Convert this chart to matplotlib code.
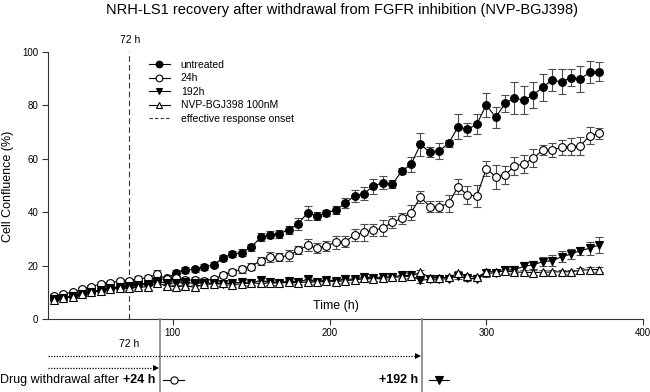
import matplotlib
matplotlib.use('Agg')
import matplotlib.pyplot as plt
from matplotlib.transforms import blended_transform_factory
from matplotlib.lines import Line2D

plt.rcParams['font.family'] = ['Liberation Sans', 'DejaVu Sans']

# ---------------- data ----------------
time_h = [24, 30, 36, 42, 48, 54, 60, 66, 72, 78, 84, 90, 96, 102, 108, 114,
          120, 126, 132, 138, 144, 150, 156, 162, 168, 174, 180, 186, 192, 198,
          204, 210, 216, 222, 228, 234, 240, 246, 252, 258, 264, 270, 276, 282,
          288, 294, 300, 306, 312, 318, 324, 330, 336, 342, 348, 354, 360, 366, 372]

untreated = [7.5, 8.0, 8.6, 9.4, 10.1, 10.9, 11.6, 12.1, 12.6, 13.0, 13.5, 14.6, 15.2,
             17.2, 18.4, 18.6, 19.5, 20.3, 22.9, 24.3, 24.9, 26.9, 30.6, 31.6, 32.0,
             33.4, 35.7, 39.8, 38.6, 39.8, 40.8, 43.3, 46.2, 47.0, 49.8, 51.1, 50.4,
             55.4, 57.9, 65.4, 62.4, 63.0, 65.8, 72.0, 71.0, 73.0, 80.2, 75.5, 80.8,
             82.7, 82.0, 83.9, 86.8, 89.5, 88.8, 90.4, 89.9, 92.4, 92.6]
untreated_sd = [0.6, 0.6, 0.6, 0.7, 0.7, 0.7, 0.8, 0.8, 0.8, 0.8, 0.9, 0.9, 1.0,
                1.0, 1.0, 1.0, 1.0, 1.0, 1.2, 1.2, 1.2, 1.3,
                1.5, 1.2, 1.5, 1.5, 2.2, 2.6, 1.5, 1.2, 1.5, 1.9, 2.2,
                2.5, 2.8, 2.4, 1.5, 1.2, 2.8, 4.4, 1.9, 2.9, 1.4, 4.7, 2.5, 3.7, 4.5,
                3.9, 3.1, 5.9, 5.2, 5.0, 5.1, 4.2, 4.7, 3.1, 4.9, 4.1, 3.5]

w24h = [8.6, 9.4, 10.0, 11.1, 12.1, 13.2, 13.6, 14.2, 14.3, 15.1, 15.4, 16.9, 14.8,
        15.2, 14.6, 14.6, 14.4, 14.9, 16.5, 17.6, 18.6, 19.6, 21.9, 23.2, 23.2,
        23.8, 25.7, 27.6, 26.5, 27.5, 28.7, 29.0, 31.5, 32.4, 33.3, 34.0, 36.2,
        37.7, 39.8, 45.6, 42.1, 42.1, 43.3, 49.6, 46.4, 46.1, 56.3, 53.3, 53.9,
        57.3, 58.1, 60.2, 63.3, 63.3, 64.3, 64.6, 64.8, 68.7, 69.5]
w24h_sd = [0.6, 0.6, 0.6, 0.7, 0.7, 0.7, 0.8, 0.8, 0.8, 0.9, 0.9, 1.5, 1.0,
           1.0, 1.2, 1.2, 1.0, 1.0, 1.0, 1.0, 1.2, 1.2,
           1.5, 1.9, 1.5, 1.9, 1.5, 2.2, 1.9, 1.9, 2.5, 1.9, 2.2,
           3.1, 2.2, 3.0, 2.2, 2.1, 2.8, 2.2, 2.2, 2.1, 3.1, 2.7, 3.4, 4.2, 2.8,
           4.5, 3.5, 3.3, 3.4, 3.4, 1.9, 2.8, 2.8, 3.1, 3.4, 3.1, 1.9]

w192h = [7.5, 8.0, 8.6, 9.5, 10.2, 10.9, 11.6, 12.0, 12.3, 12.7, 13.0, 14.3, 13.3,
         13.5, 13.7, 13.4, 13.6, 13.3, 13.1, 13.5, 13.7, 13.4, 14.5, 13.8, 13.6,
         14.2, 13.9, 14.8, 14.0, 14.6, 14.3, 15.0, 14.8, 15.8, 15.2, 15.8, 15.8,
         16.3, 16.3, 14.5, 14.9, 14.9, 15.1, 16.1, 15.2, 15.1, 17.1, 17.3, 18.2,
         18.5, 19.7, 20.3, 21.5, 21.8, 23.3, 24.3, 25.6, 26.5, 27.7]
w192h_sd = [0.5, 0.5, 0.5, 0.5, 0.6, 0.6, 0.6, 0.6, 0.6, 0.7, 0.7, 0.8, 0.7,
            0.7, 0.8, 0.8, 0.8, 0.8, 0.8, 0.8, 0.9, 0.9, 0.9, 0.9, 0.9,
            0.9, 0.9, 1.0, 0.9, 0.9, 1.0, 1.0, 1.0, 1.0, 1.0, 1.0, 1.0,
            1.0, 1.0, 1.0, 1.0, 1.0, 1.0, 1.0, 1.0, 1.0, 1.2, 1.2, 1.3,
            1.4, 1.5, 1.6, 1.7, 2.0, 2.0, 2.0, 1.5, 2.5, 3.1]

nvp = [7.1, 7.7, 8.4, 9.2, 10.0, 10.6, 11.2, 11.5, 11.5, 11.9, 12.1, 13.4, 12.4,
       12.1, 12.4, 11.9, 13.1, 13.0, 13.4, 12.9, 13.2, 13.5, 13.3, 13.6, 13.4,
       13.8, 13.5, 14.0, 13.8, 14.2, 14.0, 14.4, 14.6, 15.2, 15.0, 15.2, 15.6,
       15.8, 16.1, 17.5, 15.5, 15.4, 15.6, 17.1, 16.1, 15.6, 17.7, 17.7, 18.0,
       17.6, 17.5, 17.4, 17.5, 17.6, 17.7, 17.7, 18.2, 18.5, 18.5]
nvp_sd = [0.5, 0.5, 0.5, 0.5, 0.6, 0.6, 0.6, 0.6, 0.6, 0.6, 0.7, 0.8, 0.8,
          0.8, 0.8, 0.8, 0.8, 0.8, 0.8, 0.8, 0.8, 0.8, 0.8, 0.8, 0.8,
          0.8, 0.8, 0.8, 0.8, 0.8, 0.8, 0.8, 0.8, 0.8, 0.8, 0.8, 0.8,
          0.8, 0.8, 0.9, 0.8, 0.8, 0.8, 0.9, 0.8, 0.8, 0.9, 0.8, 0.8,
          0.8, 0.8, 0.8, 0.8, 0.8, 0.8, 0.8, 0.9, 0.9, 0.9]

labels = ['untreated', '24h', '192h', 'NVP-BGJ398 100nM', 'effective response onset']
onset_h = 72
withdraw_24_h = 91.5
withdraw_192_h = 259
x_ticks = [100, 200, 300, 400]
y_ticks = [0, 20, 40, 60, 80, 100]

# ---------------- figure ----------------
W, H = 650, 392
fig = plt.figure(figsize=(6.5, 3.92), dpi=100)
L, R, T, B = 47.5, 643, 52, 319
ax = fig.add_axes([L / W, 1 - B / H, (R - L) / W, (B - T) / H])

ecol = '#4d4d4d'
styles = [
    (untreated, untreated_sd, 'o', 'black'),
    (w24h, w24h_sd, 'o', 'white'),
    (w192h, w192h_sd, 'v', 'black'),
    (nvp, nvp_sd, '^', 'white'),
]
ms_map = {'o': 5.6, 'v': 5.6, '^': 5.4}
handles = []
for (vals, sd, mk, fc), lab in zip(styles, labels[:4]):
    ax.errorbar(time_h, vals, yerr=sd, fmt='-', color='black', lw=0.8,
                marker=mk, ms=ms_map[mk], mfc=fc, mec='black', mew=0.8,
                ecolor=ecol, elinewidth=0.8, capsize=2.6, capthick=0.8)
    handles.append(Line2D([], [], color='black', lw=0.8, marker=mk, ms=4.8,
                          mfc=fc, mec='black', mew=0.8, label=lab))

ax.axvline(onset_h, color='#333333', ls=(0, (5, 3)), lw=0.8)
handles.append(Line2D([], [], color='#333333', ls=(0, (3, 2)), lw=0.8, label=labels[4]))

ax.set_xlim(20, 400)
ax.set_ylim(0, 100)
ax.set_xticks(x_ticks)
ax.set_yticks(y_ticks)
for s in ['top', 'right']:
    ax.spines[s].set_visible(False)
for s in ['left', 'bottom']:
    ax.spines[s].set_color('#333333')
    ax.spines[s].set_linewidth(0.8)
ax.tick_params(direction='out', length=4, width=0.8, color='#333333', labelsize=7,
               pad=2.5)

fig.text(342 / W, 1 - 10 / H, 'NRH-LS1 recovery after withdrawal from FGFR inhibition (NVP-BGJ398)',
         ha='center', va='center', fontsize=10.5)
fig.text(8 / W, 1 - 186 / H, 'Cell Confluence (%)', rotation=90, ha='center', va='center', fontsize=9)
fig.text(336 / W, 1 - 306 / H, 'Time (h)', ha='center', va='center', fontsize=9)

tr = blended_transform_factory(ax.transData, fig.transFigure)


def fy(px):
    return 1 - px / H


fig.text(onset_h + 1, fy(40), '72 h', transform=tr, ha='center', va='center', fontsize=7.5)

leg = fig.legend(handles=handles, loc='upper left', bbox_to_anchor=(149 / W, 1 - 60 / H),
                 bbox_transform=fig.transFigure, frameon=False, fontsize=7.5,
                 handlelength=2.0, handletextpad=1.05, labelspacing=0.33,
                 borderpad=0, borderaxespad=0)

# ---------------- annotations below axis ----------------
gray = '#8c8c8c'
for xw in [withdraw_24_h, withdraw_192_h]:
    fig.add_artist(Line2D([xw, xw], [1 - B / H, 0], transform=tr, color=gray, lw=1.3))

fig.text(onset_h, fy(344), '72 h', transform=tr, ha='center', va='center', fontsize=7.5)

for y_px, xend in [(356, withdraw_192_h - 1.5), (368, withdraw_24_h - 1.5)]:
    fig.add_artist(Line2D([20, xend - 2], [fy(y_px), fy(y_px)], transform=tr,
                          color='black', lw=0.9, ls=(0, (1, 1.2))))
    fig.add_artist(Line2D([xend - 1], [fy(y_px)], transform=tr, marker='>',
                          ms=4, color='black', mew=0))

ty = fy(380)
t24 = fig.text(withdraw_24_h - 2.5, ty, '+24 h', transform=tr, ha='right', va='center',
               fontsize=9, fontweight='bold')
t192 = fig.text(withdraw_192_h - 2.5, ty, '+192 h', transform=tr, ha='right', va='center',
                fontsize=9, fontweight='bold')
fig.canvas.draw()
bb = t24.get_window_extent()
fig.text(bb.x0 / W - 4 / W, ty, 'Drug withdrawal after', ha='right', va='center', fontsize=9)

for xc, mk, fc in [(withdraw_24_h + 9, 'o', 'white'), (withdraw_192_h + 11, 'v', 'black')]:
    fig.add_artist(Line2D([xc - 6.5, xc + 6.5], [ty, ty], transform=tr,
                          color='black', lw=0.8))
    fig.add_artist(Line2D([xc], [ty], transform=tr, marker=mk, ms=5.2,
                          mfc=fc, mec='black', mew=0.8))

fig.savefig('out.png', dpi=100)
